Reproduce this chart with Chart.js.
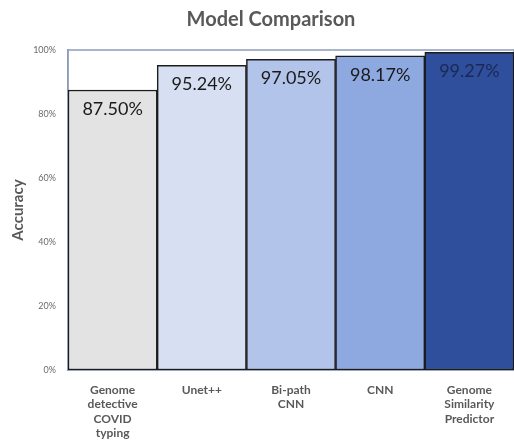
<!DOCTYPE html>
<html>
<head>
<meta charset="utf-8">
<script src="https://cdn.jsdelivr.net/npm/chart.js@4.4.0/dist/chart.umd.min.js"></script>
<style>
    html, body { margin: 0; padding: 0; background: #fff; }
    #wrap { width: 514px; height: 446px; }
</style>
</head>
<body>
<div id="wrap"><canvas id="modelChart"></canvas></div>
<script>
// Accuracy per model, in percent
const models = [
    ['Genome', 'detective', 'COVID', 'typing'],
    'Unet++',
    ['Bi-path', 'CNN'],
    'CNN',
    ['Genome', 'Similarity', 'Predictor']
];
const accuracy = [87.50, 95.24, 97.05, 98.17, 99.27];
const yTicks = [0, 20, 40, 60, 80, 100];

const barColors = ['#e3e3e3', '#d7e0f3', '#b2c4e9', '#8ea9e0', '#2f4e9c'];
const labelColors = ['#1a1a1a', '#1a1a1a', '#1a1a1a', '#1a1a1a', '#1b2855'];
const FONT = 'Lato, "Open Sans", sans-serif';

// Title centred over the plot, frame around the plot area, value labels in bars
const decorations = {
    id: 'decorations',
    beforeDatasetsDraw(chart) {
        const { ctx, chartArea: a } = chart;
        ctx.save();
        ctx.strokeStyle = '#8c9dba';
        ctx.lineWidth = 1.5;
        ctx.strokeRect(a.left, a.top, a.right - a.left, a.bottom - a.top);
        ctx.restore();
    },
    afterDatasetsDraw(chart) {
        const { ctx } = chart;
        const meta = chart.getDatasetMeta(0);
        ctx.save();
        ctx.font = '18px ' + FONT;
        ctx.textAlign = 'center';
        ctx.textBaseline = 'middle';
        meta.data.forEach((bar, i) => {
            ctx.fillStyle = labelColors[i];
            ctx.fillText(accuracy[i].toFixed(2) + '%', bar.x, bar.y + 19);
        });
        ctx.restore();
    },
    afterDraw(chart) {
        const { ctx } = chart;
        ctx.save();
        ctx.font = 'bold 20px ' + FONT;
        ctx.fillStyle = '#595959';
        ctx.textAlign = 'center';
        ctx.textBaseline = 'middle';
        ctx.fillText('Model Comparison', chart.width / 2 + 14, 20);
        ctx.restore();
    }
};

new Chart(document.getElementById('modelChart'), {
    type: 'bar',
    data: {
        labels: models,
        datasets: [{
            data: accuracy,
            backgroundColor: barColors,
            borderColor: '#1c1c1c',
            borderWidth: 1.5,
            borderSkipped: false,
            barPercentage: 1,
            categoryPercentage: 1
        }]
    },
    options: {
        responsive: true,
        maintainAspectRatio: false,
        animation: false,
        layout: { padding: { top: 50, right: 0, bottom: 0, left: 0 } },
        plugins: {
            legend: { display: false },
            tooltip: { enabled: false }
        },
        scales: {
            x: {
                grid: { display: false, drawTicks: false },
                border: { color: '#8c9dba', width: 1.5 },
                ticks: {
                    padding: 13,
                    color: '#595959',
                    font: { family: FONT, size: 12, weight: 'bold', lineHeight: 1.2 },
                    maxRotation: 0
                },
                afterFit(scale) { scale.height = 76; }
            },
            y: {
                min: 0,
                max: 100,
                afterBuildTicks(scale) {
                    scale.ticks = yTicks.map(v => ({ value: v }));
                },
                grid: { display: false, drawTicks: false },
                border: { color: '#8c9dba', width: 1.5 },
                ticks: {
                    padding: 12,
                    color: '#6b6b6b',
                    font: { family: FONT, size: 9 },
                    callback: v => v + '%'
                },
                title: {
                    display: true,
                    text: 'Accuracy',
                    color: '#595959',
                    font: { family: FONT, size: 15, weight: 'bold' },
                    padding: { top: 9, bottom: 0 }
                },
                afterFit(scale) { scale.width = 68; }
            }
        }
    },
    plugins: [decorations]
});
</script>
</body>
</html>
